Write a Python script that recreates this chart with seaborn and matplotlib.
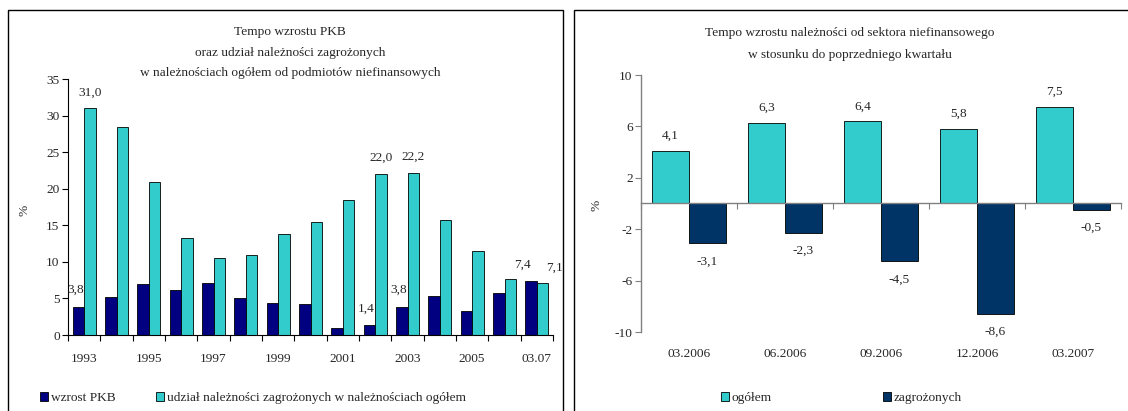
import numpy as np
import pandas as pd
import seaborn as sns
import matplotlib.pyplot as plt
from matplotlib.patches import Rectangle

# --- data ---
years = ['1993', '1994', '1995', '1996', '1997', '1998', '1999', '2000',
         '2001', '2002', '2003', '2004', '2005', '2006', '03.07']
pkb_growth = [3.8, 5.2, 7.0, 6.1, 7.1, 5.0, 4.4, 4.2, 1.0, 1.4, 3.8, 5.3, 3.3, 5.8, 7.4]
bad_share = [31.0, 28.5, 20.9, 13.3, 10.5, 10.9, 13.8, 15.5, 18.5, 22.0, 22.2, 15.7, 11.5, 7.6, 7.1]
year_ticks = ['1993', '1995', '1997', '1999', '2001', '2003', '2005', '03.07']

quarters = ['03.2006', '06.2006', '09.2006', '12.2006', '03.2007']
total_growth = [4.1, 6.3, 6.4, 5.8, 7.5]
bad_growth = [-3.1, -2.3, -4.5, -8.6, -0.5]

s_pkb = 'wzrost PKB'
s_share = 'udział należności zagrożonych w należnościach ogółem'
s_total = 'ogółem'
s_bad = 'zagrożonych'

title_left = ['Tempo wzrostu PKB', 'oraz udział należności zagrożonych',
              'w należnościach ogółem od podmiotów niefinansowych']
title_right = ['Tempo wzrostu należności od sektora niefinansowego',
               'w stosunku do poprzedniego kwartału']

# which bars carry a value label on the left chart (series, index)
left_labels = [(s_pkb, 0), (s_share, 0), (s_pkb, 9), (s_share, 9),
               (s_pkb, 10), (s_share, 10), (s_pkb, 14), (s_share, 14)]
# label nudges in pixels (dx, dy above bar top)
left_nudge = [(-3, 17), (0, 16), (-3, 16), (0, 16), (-3, 17), (0, 16), (-9, 16), (12, 15)]

sns.set_theme(style='ticks')
plt.rcParams['font.family'] = ['Liberation Serif', 'DejaVu Serif']
plt.rcParams['axes.unicode_minus'] = False
FS = 9.6

W, H = 1128, 411
fig = plt.figure(figsize=(W / 100, H / 100), dpi=100)


def px_axes(l, t, r, b):
    return fig.add_axes([l / W, 1 - b / H, (r - l) / W, (b - t) / H])


def fmt(v):
    return f'{v:.1f}'.replace('.', ',')


# panel frames
fig.add_artist(Rectangle((8 / W, -0.1), (563 - 8) / W, 1.1 - 10 / H, transform=fig.transFigure,
                         fill=False, edgecolor='black', linewidth=1.0))
fig.add_artist(Rectangle((574 / W, -0.1), 0.6, 1.1 - 10 / H, transform=fig.transFigure,
                         fill=False, edgecolor='black', linewidth=1.0))

# ---------- left chart ----------
ax1 = px_axes(68, 79, 553, 335)
df1 = pd.DataFrame({
    'rok': years * 2,
    'wartosc': pkb_growth + bad_share,
    'seria': [s_pkb] * len(years) + [s_share] * len(years),
})
sns.barplot(data=df1, x='rok', y='wartosc', hue='seria', hue_order=[s_pkb, s_share],
            palette=['#000080', '#33CCCC'], saturation=1, width=0.71, edgecolor='black',
            linewidth=0.6, errorbar=None, ax=ax1)
h1, l1 = ax1.get_legend_handles_labels()
ax1.get_legend().remove()

ax1.set_xlim(-0.5, len(years) - 0.5)
ax1.set_ylim(0, 35)
ax1.set_yticks(range(0, 36, 5))
ax1.set_xticks(range(0, len(years), 2))
ax1.set_xticklabels(year_ticks)
ax1.set_xticks(np.arange(-0.5, len(years), 1), minor=True)
ax1.tick_params(axis='x', which='major', length=0, pad=13, labelsize=FS)
ax1.tick_params(axis='x', which='minor', length=4, width=0.8, color='black')
ax1.tick_params(axis='y', length=4, width=0.8, color='black', pad=2, labelsize=FS)
ax1.set_xlabel('')
ax1.set_ylabel('')
for side in ['top', 'right']:
    ax1.spines[side].set_visible(False)
for side in ['left', 'bottom']:
    ax1.spines[side].set_color('black')
    ax1.spines[side].set_linewidth(0.8)

series_idx = {s_pkb: 0, s_share: 1}
for (ser, i), (dx, dy) in zip(left_labels, left_nudge):
    bar = ax1.containers[series_idx[ser]][i]
    val = (pkb_growth if ser == s_pkb else bad_share)[i]
    ax1.annotate(fmt(val), (bar.get_x() + bar.get_width() / 2, bar.get_height()),
                 xytext=(dx * 0.72, dy * 0.72), textcoords='offset points',
                 ha='center', va='center', fontsize=FS)

for line, y in zip(title_left, [32, 53, 73]):
    fig.text(290 / W, 1 - y / H, line, ha='center', va='center', fontsize=FS)
fig.text(25 / W, 1 - 210 / H, '%', rotation=90, ha='center', va='center', fontsize=FS)
fig.legend(h1, l1, loc='center left', bbox_to_anchor=(33 / W, 1 - 398 / H), ncol=2,
           frameon=False, fontsize=FS, borderpad=0, handlelength=0.65, handleheight=0.7,
           handletextpad=0.2, columnspacing=3.0)

# ---------- right chart ----------
ax2 = px_axes(641, 75, 1121, 332)
df2 = pd.DataFrame({
    'kwartal': quarters * 2,
    'wartosc': total_growth + bad_growth,
    'seria': [s_total] * len(quarters) + [s_bad] * len(quarters),
})
sns.barplot(data=df2, x='kwartal', y='wartosc', hue='seria', hue_order=[s_total, s_bad],
            palette=['#33CCCC', '#003366'], saturation=1, width=0.77, edgecolor='black',
            linewidth=0.6, errorbar=None, ax=ax2)
h2, l2 = ax2.get_legend_handles_labels()
ax2.get_legend().remove()

ax2.set_xlim(-0.5, len(quarters) - 0.5)
ax2.set_ylim(-10, 10)
ax2.set_yticks([-10, -6, -2, 2, 6, 10])
ax2.set_xticks(range(len(quarters)))
ax2.set_xticklabels(quarters)
ax2.set_xticks(np.arange(-0.5, len(quarters), 1), minor=True)
ax2.spines['bottom'].set_position(('data', 0))
ax2.tick_params(axis='x', which='major', length=0, pad=104, labelsize=FS)
ax2.tick_params(axis='x', which='minor', length=4, width=0.8, color='#808080')
ax2.tick_params(axis='y', length=4, width=0.8, color='#808080', pad=2, labelsize=FS)
ax2.set_xlabel('')
ax2.set_ylabel('')
for side in ['top', 'right']:
    ax2.spines[side].set_visible(False)
for side in ['left', 'bottom']:
    ax2.spines[side].set_color('#808080')
    ax2.spines[side].set_linewidth(1.0)

for cont, vals in zip(ax2.containers, [total_growth, bad_growth]):
    for bar, val in zip(cont, vals):
        dy = 15 if val > 0 else -18
        ax2.annotate(fmt(val), (bar.get_x() + bar.get_width() / 2, val),
                     xytext=(0, dy * 0.72), textcoords='offset points',
                     ha='center', va='center', fontsize=FS)

for line, y in zip(title_right, [33, 55]):
    fig.text(850 / W, 1 - y / H, line, ha='center', va='center', fontsize=FS)
fig.text(597 / W, 1 - 205 / H, '%', rotation=90, ha='center', va='center', fontsize=FS)
fig.legend(h2, l2, loc='center left', bbox_to_anchor=(714 / W, 1 - 398 / H), ncol=2,
           frameon=False, fontsize=FS, borderpad=0, handlelength=0.65, handleheight=0.7,
           handletextpad=0.2, columnspacing=8.3)

fig.savefig('out.png', dpi=100)
